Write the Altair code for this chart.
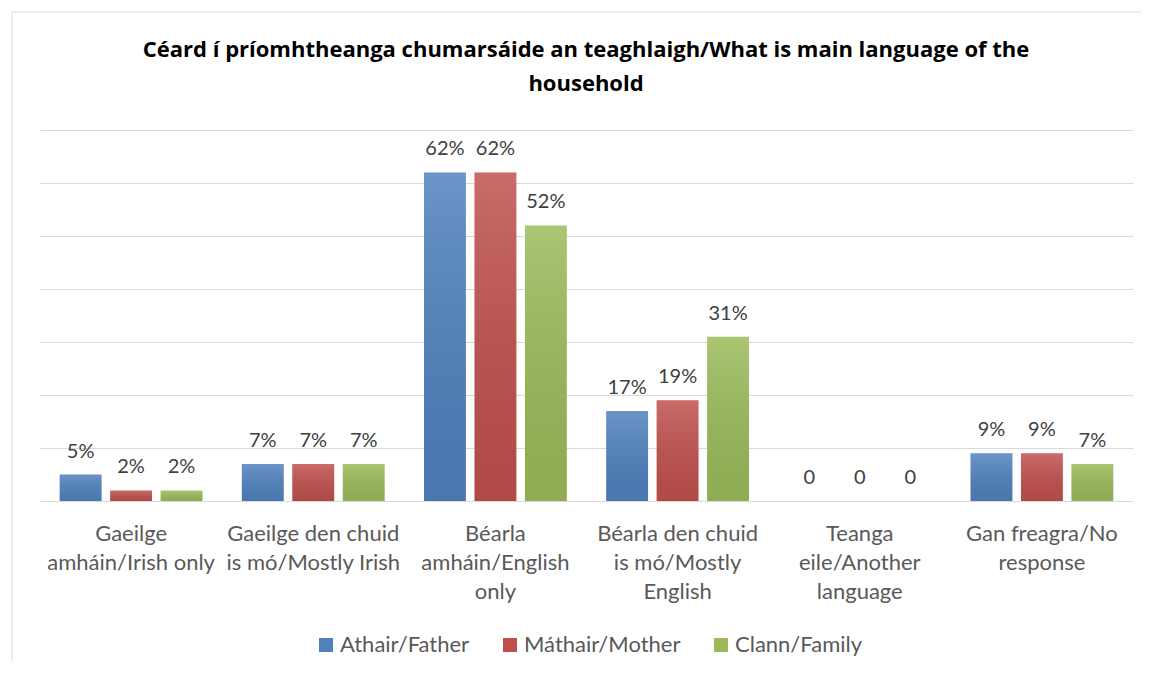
import altair as alt
import pandas as pd

# ---- data ----
categories = [
    "Gaeilge amháin/Irish only",
    "Gaeilge den chuid is mó/Mostly Irish",
    "Béarla amháin/English only",
    "Béarla den chuid is mó/Mostly English",
    "Teanga eile/Another language",
    "Gan freagra/No response",
]
label_lines = [
    ["Gaeilge", "amháin/Irish only"],
    ["Gaeilge den chuid", "is mó/Mostly Irish"],
    ["Béarla", "amháin/English", "only"],
    ["Béarla den chuid", "is mó/Mostly", "English"],
    ["Teanga", "eile/Another", "language"],
    ["Gan freagra/No", "response"],
]
series = ["Athair/Father", "Máthair/Mother", "Clann/Family"]
father = [5, 7, 62, 17, 0, 9]
mother = [2, 7, 62, 19, 0, 9]
family = [2, 7, 52, 31, 0, 7]
colors = ["#4F81BD", "#C0504D", "#9BBB59"]
grid_values = [0, 0.1, 0.2, 0.3, 0.4, 0.5, 0.6, 0.7]
title_lines = [
    "Céard í príomhtheanga chumarsáide an teaghlaigh/What is main language of the",
    "household",
]

rows = []
for s, vals in zip(series, [father, mother, family]):
    for c, v in zip(categories, vals):
        rows.append({
            "category": c,
            "series": s,
            "value": v / 100.0,
            "label": "0" if v == 0 else f"{v}%",
        })
df = pd.DataFrame(rows)

FONT = "Lato"

# multi-line axis labels
expr = "datum.value"
for c, lines in reversed(list(zip(categories, label_lines))):
    arr = "[" + ",".join("'" + l + "'" for l in lines) + "]"
    expr = f"datum.value == '{c}' ? {arr} : ({expr})"

x_enc = alt.X(
    "category:N",
    sort=categories,
    scale=alt.Scale(paddingInner=0, paddingOuter=0),
    axis=alt.Axis(
        title=None, labelAngle=0, labelExpr=expr, labelFont=FONT,
        labelFontSize=22, labelColor="#595959", labelPadding=22,
        labelLineHeight=29, labelBaseline="top", domain=False, ticks=False,
        labelLimit=300, grid=False,
    ),
)
xo = alt.XOffset("series:N", sort=series,
                 scale=alt.Scale(paddingInner=0.17, paddingOuter=0.39))
y_enc = alt.Y(
    "value:Q",
    scale=alt.Scale(domain=[0, 0.7], nice=False),
    axis=alt.Axis(title=None, labels=False, ticks=False, domain=False,
                  values=grid_values, grid=True, gridColor="#D9D9D9",
                  gridWidth=1),
)

base = alt.Chart(df).encode(x=x_enc, xOffset=xo, y=y_enc)

bars = base.mark_bar().encode(
    color=alt.Color(
        "series:N", sort=series,
        scale=alt.Scale(domain=series, range=colors),
        legend=alt.Legend(
            title=None, orient="none", direction="horizontal",
            legendX=275, legendY=504, symbolType="square", symbolSize=196,
            symbolStrokeWidth=0, symbolOpacity=1, labelFont=FONT,
            labelFontSize=22, labelColor="#595959", columnPadding=29,
            labelOffset=3, labelLimit=300,
        ),
    ),
)

shade = base.mark_bar(
    fill=alt.Gradient(
        gradient="linear",
        stops=[
            alt.GradientStop(color="rgba(255,255,255,0.16)", offset=0),
            alt.GradientStop(color="rgba(0,0,0,0.08)", offset=1),
        ],
        x1=0, x2=0, y1=0, y2=1,
    )
)

labels = base.mark_text(
    baseline="alphabetic", dy=-17, font=FONT, fontSize=20, color="#404040"
).encode(text="label:N")

one = alt.Data(values=[{"k": 1}])
frame_left = alt.Chart(one).mark_rule(color="#D9D9D9", strokeWidth=1).encode(
    x=alt.value(-28), y=alt.value(-118), y2=alt.value(560)
)
frame_top = alt.Chart(one).mark_rule(color="#D9D9D9", strokeWidth=1).encode(
    x=alt.value(-28), x2=alt.value(1130), y=alt.value(-118)
)
title = alt.Chart(one).mark_text(
    text=title_lines, font="Open Sans", fontSize=22, fontWeight="bold",
    color="#000000", align="center", baseline="alphabetic", lineHeight=34,
).encode(x=alt.value(546), y=alt.value(-73))

chart = alt.layer(frame_left, frame_top, title, bars, shade, labels).properties(
    width=1093,
    height=371,
    autosize=alt.AutoSizeParams(type="none"),
    padding={"left": 32, "top": 122, "right": 8, "bottom": 160},
).configure(background="white").configure_view(stroke=None)

chart.save("out.html", embed_options={"renderer": "svg", "actions": False})
